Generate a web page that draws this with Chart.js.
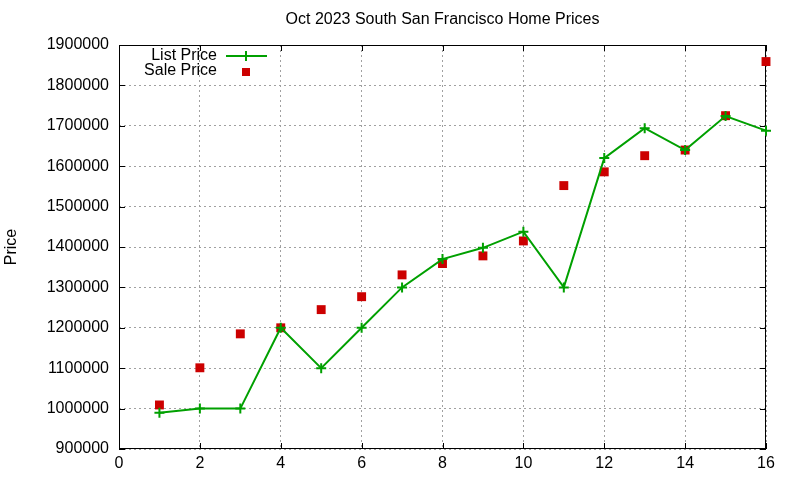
<!DOCTYPE html>
<html>
<head>
<meta charset="utf-8">
<script src="https://cdn.jsdelivr.net/npm/chart.js@4.4.0/dist/chart.umd.min.js"></script>
<style>
  html, body { margin: 0; padding: 0; background: #fff; }
  #wrap { width: 800px; height: 480px; }
</style>
</head>
<body>
<div id="wrap"><canvas id="chart"></canvas></div>
<script>
// data
const months = [1, 2, 3, 4, 5, 6, 7, 8, 9, 10, 11, 12, 13, 14, 15, 16];
const listPrice = [990000, 1000000, 1000000, 1200000, 1100000, 1200000, 1300000, 1370000,
                   1398000, 1438000, 1300000, 1620000, 1694000, 1640000, 1724000, 1688000];
const salePrice = [1009000, 1101000, 1185000, 1200000, 1245000, 1277000, 1331000, 1359000,
                   1378000, 1415000, 1552000, 1586000, 1626000, 1640000, 1725000, 1859000];
const xTicks = [0, 2, 4, 6, 8, 10, 12, 14, 16];
const yTicks = [900000, 1000000, 1100000, 1200000, 1300000, 1400000, 1500000,
                1600000, 1700000, 1800000, 1900000];

const chartTitle = 'Oct 2023 South San Francisco Home Prices';
const yTitle = 'Price';
const green = '#00a000';
const red = '#cc0000';
const font = 'Liberation Sans, Arial, sans-serif';

// border, inward ticks, title and gnuplot-like key
const frame = {
  id: 'frame',
  beforeDatasetsDraw(chart) {
    const { ctx, chartArea: a, scales: { x, y } } = chart;
    ctx.save();
    ctx.strokeStyle = '#000';
    ctx.lineWidth = 1;
    ctx.strokeRect(a.left + 0.5, a.top + 0.5, a.width - 1, a.height - 1);
    ctx.beginPath();
    xTicks.forEach(t => {
      const px = Math.round(x.getPixelForValue(t)) + 0.5;
      ctx.moveTo(px, a.bottom); ctx.lineTo(px, a.bottom - 6);
      ctx.moveTo(px, a.top); ctx.lineTo(px, a.top + 6);
    });
    yTicks.forEach(t => {
      const py = Math.round(y.getPixelForValue(t)) + 0.5;
      ctx.moveTo(a.left, py); ctx.lineTo(a.left + 6, py);
      ctx.moveTo(a.right, py); ctx.lineTo(a.right - 6, py);
    });
    ctx.stroke();

    ctx.fillStyle = '#000';
    ctx.font = '16px ' + font;
    ctx.textAlign = 'center';
    ctx.textBaseline = 'middle';
    ctx.fillText(chartTitle, (a.left + a.right) / 2, 20);

    ctx.save();
    ctx.translate(12, (a.top + a.bottom) / 2);
    ctx.rotate(-Math.PI / 2);
    ctx.fillText(yTitle, 0, 0);
    ctx.restore();

    // key
    ctx.textAlign = 'right';
    ctx.fillText('List Price', 217, 56);
    ctx.fillText('Sale Price', 217, 71);
    ctx.strokeStyle = green;
    ctx.lineWidth = 2;
    ctx.beginPath();
    ctx.moveTo(226, 56); ctx.lineTo(267, 56);
    ctx.moveTo(246, 51); ctx.lineTo(246, 61);
    ctx.stroke();
    ctx.fillStyle = red;
    ctx.fillRect(242, 68, 8, 8);
    ctx.restore();
  }
};

new Chart(document.getElementById('chart'), {
  type: 'line',
  data: {
    datasets: [{
      label: 'List Price',
      data: months.map((m, i) => ({ x: m, y: listPrice[i] })),
      borderColor: green,
      backgroundColor: green,
      borderWidth: 2,
      pointStyle: 'cross',
      pointRadius: 5,
      pointBorderWidth: 2,
      tension: 0,
      clip: false
    }, {
      label: 'Sale Price',
      data: months.map((m, i) => ({ x: m, y: salePrice[i] })),
      showLine: false,
      borderColor: red,
      backgroundColor: red,
      pointStyle: 'rect',
      pointRadius: 6.3,
      pointBorderWidth: 0,
      clip: false
    }]
  },
  options: {
    responsive: true,
    maintainAspectRatio: false,
    animation: false,
    layout: { padding: { left: 0, top: 45, right: 34, bottom: 0 } },
    plugins: {
      legend: { display: false },
      title: { display: false },
      tooltip: { enabled: false }
    },
    scales: {
      x: {
        type: 'linear',
        min: 0,
        max: 16,
        afterBuildTicks: s => { s.ticks = xTicks.map(v => ({ value: v })); },
        afterFit: s => { s.height = 31; },
        ticks: { color: '#000', font: { family: font, size: 16 }, padding: 5, maxRotation: 0 },
        grid: { color: '#a0a0a0', lineWidth: 1, drawTicks: false },
        border: { display: false, dash: [2, 3] }
      },
      y: {
        type: 'linear',
        min: 900000,
        max: 1900000,
        afterBuildTicks: s => { s.ticks = yTicks.map(v => ({ value: v })); },
        afterFit: s => { s.width = 119; },
        ticks: { color: '#000', font: { family: font, size: 16 }, padding: 10, callback: v => String(v) },
        grid: { color: '#a0a0a0', lineWidth: 1, drawTicks: false },
        border: { display: false, dash: [2, 3] }
      }
    }
  },
  plugins: [frame]
});
</script>
</body>
</html>
